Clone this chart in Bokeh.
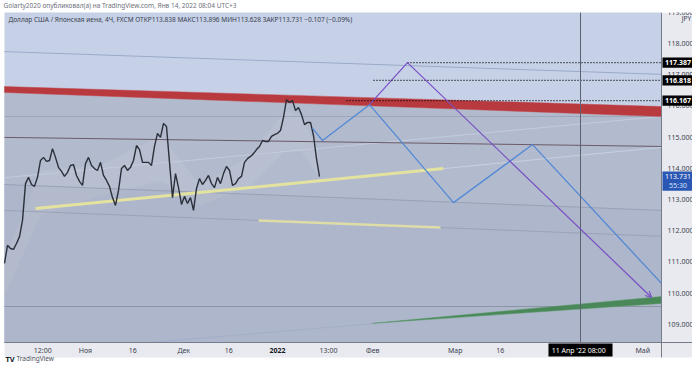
from bokeh.plotting import figure
from bokeh.models import Range1d, Arrow, OpenHead
from bokeh.core.properties import value
from bokeh.embed import file_html
from bokeh.resources import INLINE

FONT = "Noto Sans"

# ---------------- data ----------------
# USD/JPY 4H closes, one value every 4 bars
bar_step = 4
price_close = [110.95, 111.53, 111.43, 111.40, 111.59, 111.81, 112.33, 113.51, 113.71, 113.48,
               113.42, 113.71, 114.25, 114.35, 114.22, 114.25, 114.63, 114.35, 114.03, 113.90,
               113.74, 113.87, 114.09, 114.12, 113.77, 113.58, 113.45, 114.15, 114.35, 114.09,
               113.99, 113.93, 114.19, 113.77, 113.61, 113.42, 113.06, 112.81, 113.29, 113.99,
               114.09, 113.93, 114.03, 114.25, 114.73, 114.60, 114.19, 114.19, 114.19, 114.09,
               114.70, 115.12, 114.99, 115.44, 115.34, 114.19, 113.06, 113.83, 113.38, 112.84,
               113.10, 112.87, 113.06, 112.65, 113.35, 113.67, 113.48, 113.61, 113.77, 113.51,
               113.38, 113.71, 113.51, 113.83, 114.06, 113.93, 113.45, 113.51, 113.67, 113.74,
               114.19, 114.31, 114.38, 114.47, 114.60, 114.70, 114.89, 114.86, 114.86, 115.02,
               115.08, 115.12, 115.21, 115.63, 116.20, 116.11, 116.17, 115.85, 115.95, 115.72,
               115.40, 115.47, 115.47, 115.05, 114.31, 113.73]
price_bars = [i * bar_step for i in range(len(price_close))]
last_price = 113.731
countdown = "55:30"

# light envelope around the price
cloud_bars = [0, 21.3, 48, 128, 208, 261.3, 328, 374.7, 394.7, 418.7,
              418.7, 394.7, 374.7, 328, 261.3, 208, 128, 48, 21.3, 0]
cloud_price = [111.11, 112.33, 113.93, 114.09, 115.05, 113.45, 114.41, 115.85, 115.69, 114.57,
               113.77, 114.57, 114.57, 113.45, 112.81, 113.61, 113.13, 112.49, 111.04, 109.92]

# time axis ticks (bar index) and labels
tick_pos = [51, 108, 171, 239, 299, 364, 432, 491, 601, 661, 851]
tick_labels = ["12:00", "Ноя", "16", "Дек", "16", "2022", "13:00", "Фев", "Мар", "16", "Май"]
price_ticks = [109, 110, 111, 112, 113, 114, 115, 116, 117, 118, 119]

# chart pane limits (bars / price)
pane_left, pane_right = 0.0, 876.0
pane_bottom, pane_top = 108.416, 118.99
scale_right = 922.7           # right edge of the price scale column
time_row_bottom = 107.936     # bottom of the time scale row

# drawings
red_x = [0, 876, 876, 0]
red_y = [116.62, 115.98, 115.66, 116.43]
green_x = [490.7, 876, 876]
green_y = [109.03, 109.89, 109.67]
yellow1_x = [41.3, 585.3]
yellow1_y = [112.71, 113.99]
yellow1_ext_x = [585.3, 876]
yellow1_ext_y = [113.99, 114.67]
yellow2_x = [338.7, 581.3]
yellow2_y = [112.33, 112.10]
maroon_x = [0, 876]
maroon_y = [114.99, 114.70]
faint_a = ([0, 876], [117.74, 117.01])
faint_b = ([0, 876], [115.66, 115.66])
faint_c = ([0, 876], [113.70, 115.66])
faint_d = ([0, 876], [113.48, 112.65])
faint_e = ([0, 876], [112.65, 111.82])
faint_f = ([0, 876], [109.57, 109.57])
faint_g = ([194.7, 876], [108.42, 109.80])
blue_x = [410.7, 424, 486.7, 598.7, 704, 876]
blue_y = [115.28, 114.89, 116.04, 112.90, 114.76, 110.31]
purple_x = [486.7, 537.3, 862.7]
purple_y = [116.04, 117.387, 109.86]
level_prices = [117.387, 116.818, 116.167]
level_start = [537.3, 492, 456]
cursor_bar = 768
cursor_label = "11 Апр '22   08:00"

credit = "Golarty2020 опубликовал(а) на TradingView.com, Янв 14, 2022 08:04 UTC+3"
legend_text = ("Доллар США / Японская иена, 4Ч, FXCM  ОТКР113.838  МАКС113.896  "
               "МИН113.628  ЗАКР113.731  −0.107 (−0.09%)")

# ---------------- figure ----------------
p = figure(width=692, height=365, output_backend="svg", toolbar_location=None,
           x_range=Range1d(-5.33, 917.33), y_range=Range1d(107.679, 119.378),
           x_axis_location=None, y_axis_location=None,
           min_border_left=0, min_border_right=0, min_border_top=0, min_border_bottom=0)
p.background_fill_color = "white"
p.border_fill_color = "white"
p.outline_line_color = None
p.grid.grid_line_color = None

# panes
p.quad(left=[pane_left], right=[pane_right], bottom=[pane_bottom], top=[pane_top],
       fill_color="#c6d1e8", line_color=None)
p.quad(left=[pane_right], right=[scale_right], bottom=[time_row_bottom], top=[pane_top],
       fill_color="#e8eaef", line_color=None)
p.quad(left=[pane_left], right=[pane_right], bottom=[time_row_bottom], top=[pane_bottom],
       fill_color="#e8eaef", line_color=None)

lower_x = [0, 876, 876, 0]
p.patch(lower_x, [116.43, 115.66, pane_bottom, pane_bottom], fill_color="#b2bbce", line_color=None)
p.patch(lower_x, [113.48, 112.65, pane_bottom, pane_bottom], fill_color="#adb6ca", line_color=None)
p.patch(cloud_bars, cloud_price, fill_color="#d2d4da", fill_alpha=0.16, line_color=None)

for xs, ys, col in [(faint_a[0], faint_a[1], "#9aaac7"), (faint_b[0], faint_b[1], "#9ea7b9"),
                    (faint_c[0], faint_c[1], "#c3cbdd"), (faint_d[0], faint_d[1], "#98a1b5"),
                    (faint_e[0], faint_e[1], "#9aa3b7"), (faint_f[0], faint_f[1], "#8c94a7"),
                    (faint_g[0], faint_g[1], "#a2adc8")]:
    p.line(xs, ys, line_color=col, line_width=1)

p.line(yellow1_ext_x, yellow1_ext_y, line_color="#c8cfdf", line_width=1)
p.line(maroon_x, maroon_y, line_color="#6b5a68", line_width=1)
p.patch(red_x, red_y, fill_color="#b8393e", line_color="#c04a4e", line_width=0.5)
p.patch(green_x, green_y, fill_color="#4a885a", line_color="#5a9a68", line_width=0.5)
p.line(yellow1_x, yellow1_y, line_color="#e4e29f", line_width=3)
p.line(yellow2_x, yellow2_y, line_color="#dedda8", line_width=2.5)

# price
p.line(price_bars, price_close, line_color="#2b2f3a", line_width=1.4)

# scenarios
p.line(blue_x, blue_y, line_color="#5288d6", line_width=1.3)
p.line(purple_x[:2], purple_y[:2], line_color="#7a4fc4", line_width=1.2)
p.add_layout(Arrow(end=OpenHead(size=6, line_color="#7a4fc4", line_width=1.2),
                   x_start=purple_x[1], y_start=purple_y[1], x_end=purple_x[2], y_end=purple_y[2],
                   line_color="#7a4fc4", line_width=1.2))

for lv, st in zip(level_prices, level_start):
    p.line([st, pane_right], [lv, lv], line_color="black", line_width=1.3, line_dash="1 2")

# cursor
p.segment(x0=[cursor_bar], y0=[pane_bottom], x1=[cursor_bar], y1=[pane_top],
          line_color="#5c6272", line_width=1)

# scale borders
p.segment(x0=[pane_left], y0=[pane_bottom], x1=[scale_right], y1=[pane_bottom],
          line_color="#767c8a", line_width=1)
p.segment(x0=[pane_right], y0=[time_row_bottom], x1=[pane_right], y1=[pane_top],
          line_color="#767c8a", line_width=1)

# price scale labels
lab_x = pane_right + 8
p.text(x=[lab_x] * len(price_ticks), y=price_ticks, text=[f"{t:.3f}" for t in price_ticks],
       text_font=value(FONT), text_font_size="7px", text_color="#3d4150",
       text_align="left", text_baseline="middle")
# the scale column starts at the pane top: hide what is above it
p.quad(left=[pane_right - 0.5], right=[scale_right + 10], bottom=[pane_top], top=[119.5],
       fill_color="white", line_color=None)
p.text(x=[pane_right + 33.3], y=[118.80], text=["JPY"], text_font=value(FONT),
       text_font_size="6.5px", text_color="#3d4150", text_align="center", text_baseline="middle")

# time scale labels
time_y = 108.16
normal = [(t, l) for t, l in zip(tick_pos, tick_labels) if l != "2022"]
p.text(x=[t for t, _ in normal], y=[time_y] * len(normal), text=[l for _, l in normal],
       text_font=value(FONT), text_font_size="7px", text_color="#3d4150",
       text_align="center", text_baseline="middle")
bold = [(t, l) for t, l in zip(tick_pos, tick_labels) if l == "2022"]
p.text(x=[t for t, _ in bold], y=[time_y] * len(bold), text=[l for _, l in bold],
       text_font=value(FONT), text_font_size="7px", text_color="#131722", text_font_style="bold",
       text_align="center", text_baseline="middle")

# level boxes on the price scale
half = 0.165
box_l, box_r = pane_right + 1.3, pane_right + 42.7
p.quad(left=[box_l] * 3, right=[box_r] * 3, bottom=[v - half for v in level_prices],
       top=[v + half for v in level_prices], fill_color="black", line_color=None)
p.text(x=[(box_l + box_r) / 2] * 3, y=level_prices, text=[f"{v:.3f}" for v in level_prices],
       text_font=value(FONT), text_font_size="7px", text_color="white", text_font_style="bold",
       text_align="center", text_baseline="middle")
# last price box
p.quad(left=[box_l], right=[box_r + 2.5], bottom=[last_price - 0.45], top=[last_price + 0.165],
       fill_color="#2a57b3", line_color=None)
p.text(x=[(box_l + box_r) / 2, (box_l + box_r) / 2], y=[last_price, last_price - 0.28],
       text=[f"{last_price:.3f}", countdown], text_font=value(FONT), text_font_size="7px",
       text_color=["white", "#d4e2ff"], text_align="center", text_baseline="middle")

# cursor date box
p.quad(left=[cursor_bar - 42.7], right=[cursor_bar + 42.7], bottom=[time_row_bottom + 0.03],
       top=[pane_bottom - 0.03], fill_color="black", line_color=None)
p.text(x=[cursor_bar], y=[time_y], text=[cursor_label], text_font=value(FONT),
       text_font_size="7px", text_color="white", text_align="center", text_baseline="middle")

# texts
p.text(x=[-1.3], y=[119.218], text=[credit], text_font=value(FONT), text_font_size="6.5px",
       text_color="#6d707b", text_align="left", text_baseline="middle")
p.text(x=[5.3], y=[118.77], text=[legend_text], text_font=value(FONT), text_font_size="6.5px",
       text_color="#3a3f4e", text_align="left", text_baseline="middle")
p.text(x=[1.3], y=[107.90], text=["TV"], text_font=value(FONT), text_font_size="7.5px",
       text_color="#131722", text_font_style="bold", text_align="left", text_baseline="middle")
p.text(x=[16.0], y=[107.90], text=["TradingView"], text_font=value(FONT), text_font_size="6.5px",
       text_color="#4a4e5a", text_align="left", text_baseline="middle")

open("out.html", "w").write(file_html(p, INLINE))
